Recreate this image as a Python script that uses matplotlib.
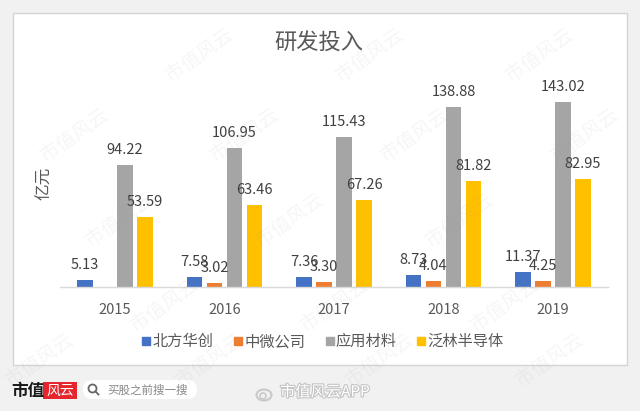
import numpy as np
import matplotlib
matplotlib.use('Agg')
import matplotlib.pyplot as plt
from matplotlib.patches import Rectangle, FancyBboxPatch, Circle, Ellipse
from matplotlib.lines import Line2D
import matplotlib.patheffects as pe

plt.rcParams['font.family'] = ['Noto Sans CJK SC', 'DejaVu Sans']

# ---------------- data ----------------
years = ['2015', '2016', '2017', '2018', '2019']
series_names = ['北方华创', '中微公司', '应用材料', '泛林半导体']
naura = [5.13, 7.58, 7.36, 8.73, 11.37]
amec = [np.nan, 3.02, 3.30, 4.04, 4.25]
amat = [94.22, 106.95, 115.43, 138.88, 143.02]
lam = [53.59, 63.46, 67.26, 81.82, 82.95]
colors = ['#4472C4', '#ED7D31', '#A5A5A5', '#FFC000']
title = '研发投入'
ylabel = '亿元'

W, H = 640, 411
fig = plt.figure(figsize=(6.4, 4.11), dpi=100, facecolor='#f1f1f1')

# background card (pixel coordinates)
bg = fig.add_axes([0, 0, 1, 1], zorder=0)
bg.set_xlim(0, W); bg.set_ylim(H, 0); bg.axis('off')
bg.add_patch(Rectangle((13, 13), 614, 352, facecolor='white', edgecolor='#d4d4d4', lw=1))

# main axes
ax = fig.add_axes([60.25 / W, (H - 286.7) / H, 547.5 / W, 206.9 / H], zorder=1)
ax.set_facecolor('none')
x = np.arange(len(years))
width = 0.143
step = 0.183
all_series = [naura, amec, amat, lam]
for k, (vals, c) in enumerate(zip(all_series, colors)):
    vals = np.array(vals, dtype=float)
    off = (k - 1.5) * step
    ax.bar(x + off, vals, width=width, color=c, zorder=2)
    for xi, v in zip(x + off, vals):
        if np.isnan(v):
            continue
        ax.annotate(f'{v:.2f}', (xi, v), xytext=(0, 8), textcoords='offset points',
                    ha='center', va='baseline', fontsize=10.5, color='#404040')

ax.set_xlim(-0.5, len(years) - 0.5)
ax.set_ylim(0, 160)
for s in ['left', 'top', 'right']:
    ax.spines[s].set_visible(False)
ax.spines['bottom'].set_color('#d9d9d9')
ax.spines['bottom'].set_linewidth(1)
ax.set_yticks([])
ax.set_xticks(x)
ax.set_xticklabels(years, fontsize=10.5, color='#595959')
ax.tick_params(axis='x', length=0, pad=19.4)
for lab in ax.get_xticklabels():
    lab.set_va('baseline')

fig.text(319 / W, 1 - 42 / H, title, ha='center', va='center', fontsize=16, color='#595959')
fig.text(45 / W, 1 - 183 / H, ylabel, rotation=90, ha='center', va='center', fontsize=12, color='#595959')

handles = [Line2D([], [], marker='s', linestyle='none', markersize=5.5, color=c) for c in colors]
fig.legend(handles, series_names, loc='center', bbox_to_anchor=(323 / W, 1 - 341.7 / H), ncol=4,
           frameon=False, fontsize=11, handlelength=0.5, handletextpad=0.15, columnspacing=1.35,
           labelcolor='#595959')

# bottom brand strip
bg.text(27.5, 391, '市值', fontsize=12, fontweight='bold', color='#1a1a1a', ha='center', va='center')
bg.add_patch(Rectangle((43, 382), 34, 17, facecolor='#e5262c', edgecolor='none'))
bg.text(60, 390.5, '风云', fontsize=10, color='white', style='italic', ha='center', va='center')
bg.add_patch(FancyBboxPatch((83, 380), 114, 19, boxstyle='round,pad=0,rounding_size=9.5',
                            facecolor='white', edgecolor='none'))
bg.add_patch(Circle((92.5, 388.5), 4, fill=False, edgecolor='#666666', lw=1.3))
bg.plot([95.5, 98.5], [391.5, 394.5], color='#666666', lw=1.3)
bg.text(107, 390, '买股之前搜一搜', ha='left', va='center', fontsize=8.3, color='#888888')
bg.add_patch(Ellipse((264, 395), 15, 11, fill=False, edgecolor='#c9c9c9', lw=1.5))
bg.add_patch(Circle((263, 396), 3, fill=False, edgecolor='#c9c9c9', lw=1.2))
bg.text(280, 392, '市值风云APP', ha='left', va='center', fontsize=11, color='white',
        path_effects=[pe.withStroke(linewidth=1.6, foreground='#c4c4c4')])

# watermark overlay (only fully-visible copies)
wm = fig.add_axes([0, 0, 1, 1], zorder=3)
wm.set_xlim(0, W); wm.set_ylim(H, 0); wm.axis('off')
for r, yy in enumerate([55, 135, 220, 305, 360]):
    xoff = (r * 45) % 170
    for xx in np.arange(-140, 700, 170) + xoff:
        if 40 <= xx <= W - 40:
            wm.text(xx, yy, '市值风云', rotation=35, fontsize=14, color='#9a9a9a', alpha=0.09,
                    ha='center', va='center')

fig.savefig('out.png', dpi=100, facecolor=fig.get_facecolor())
